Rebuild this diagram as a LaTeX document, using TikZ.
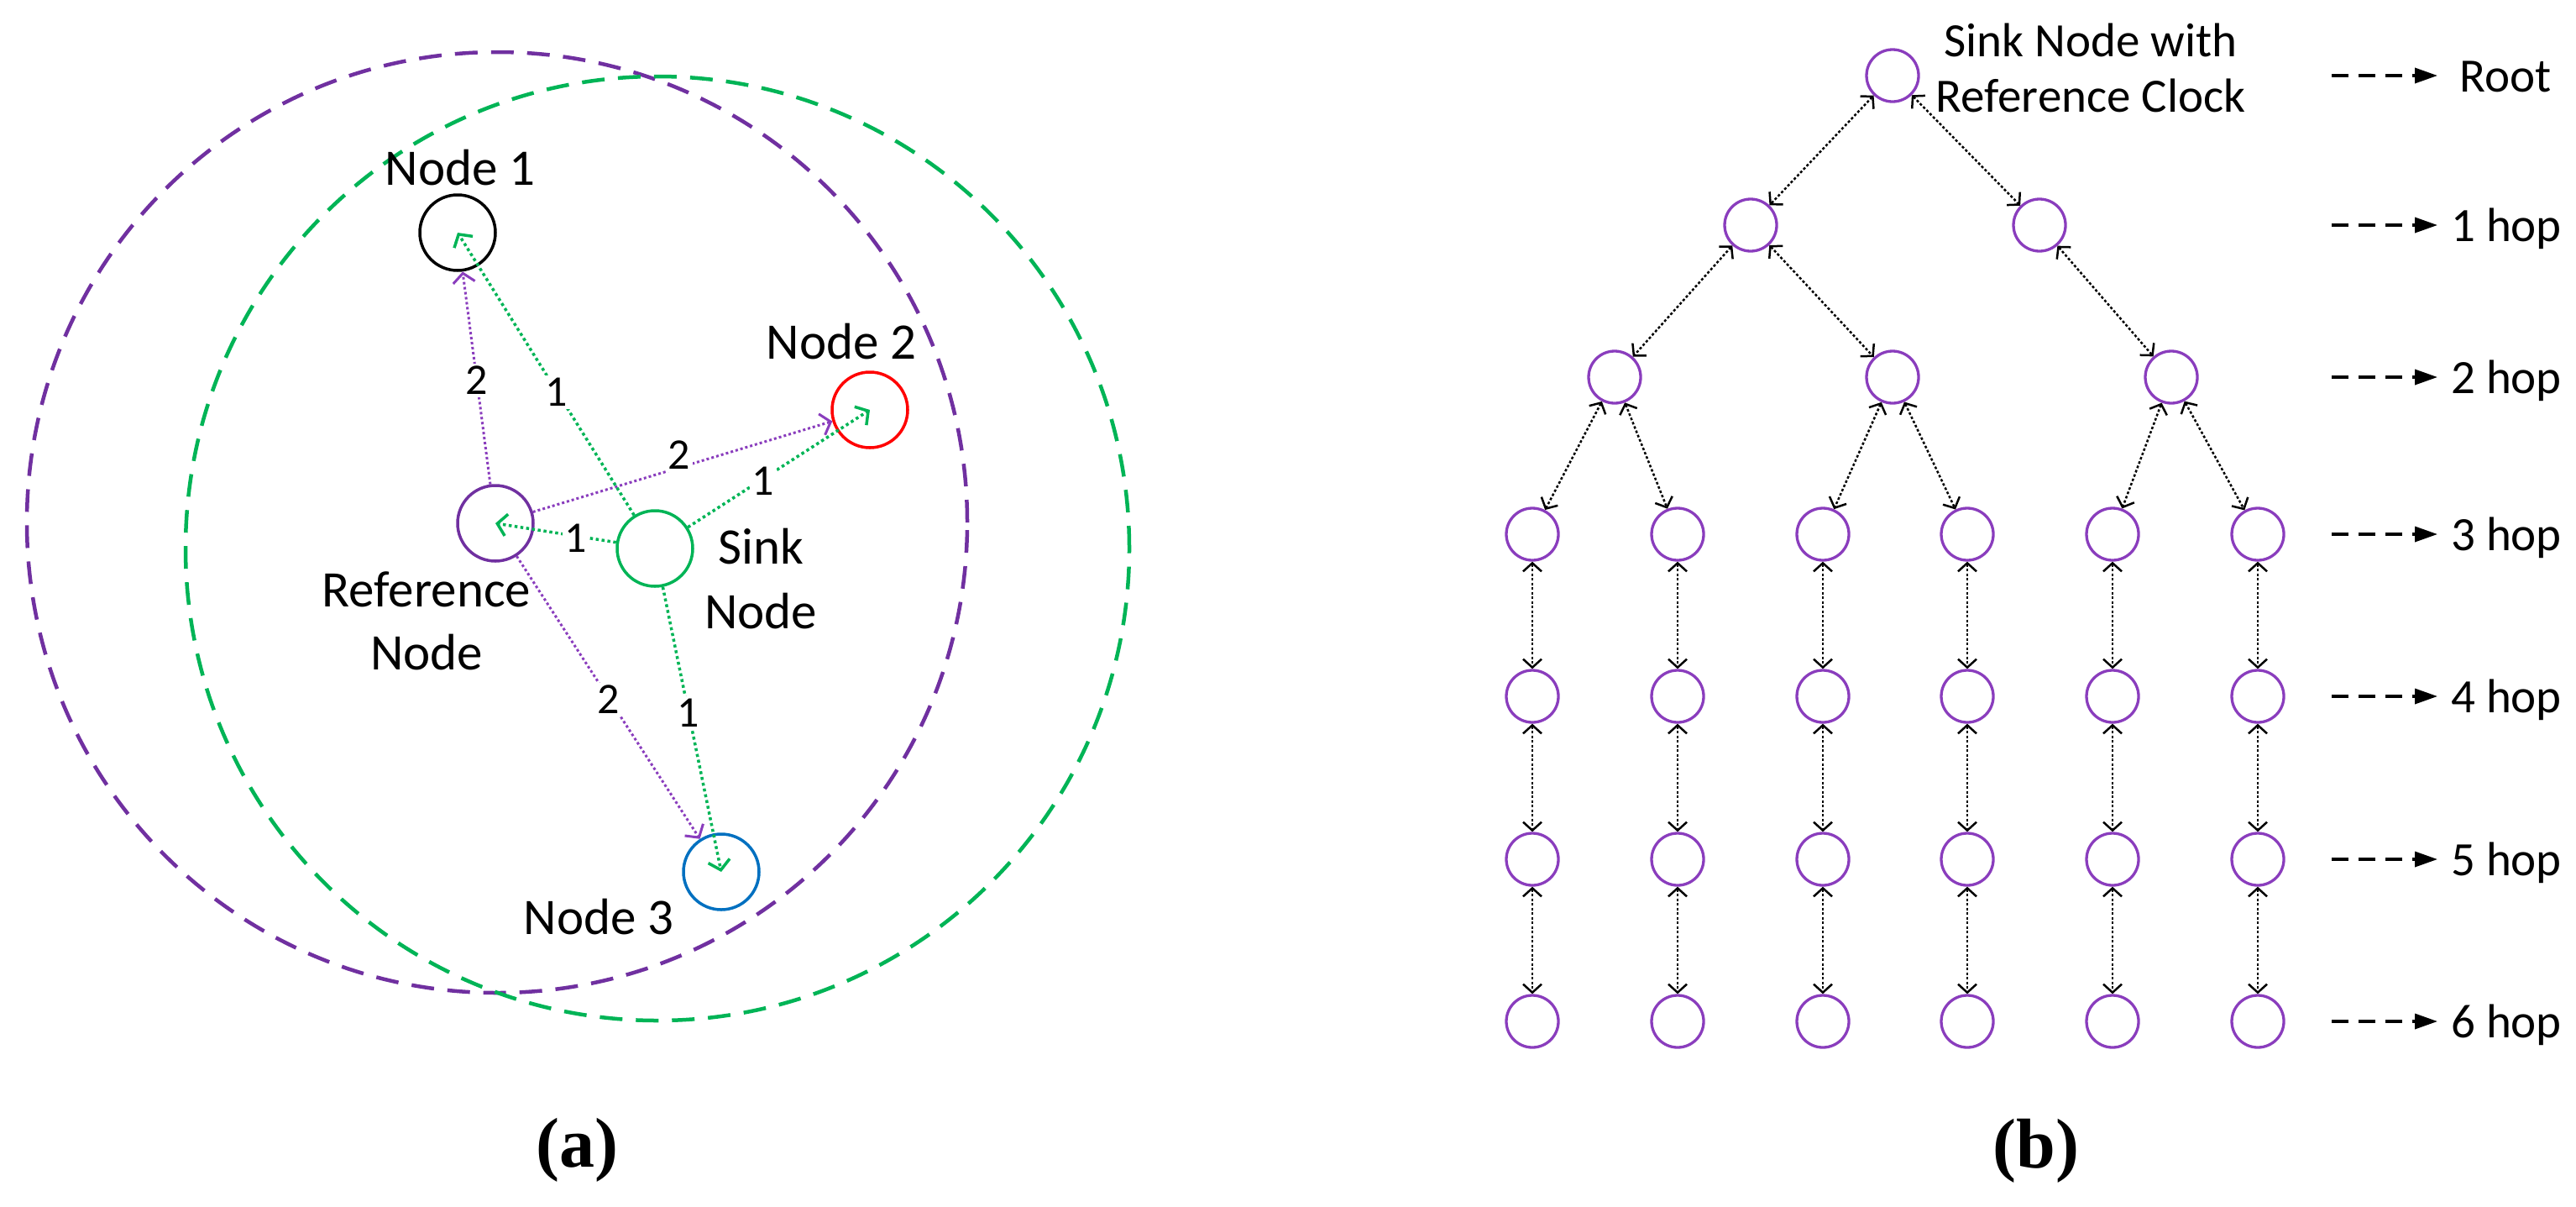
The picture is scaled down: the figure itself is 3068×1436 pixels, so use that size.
\documentclass[tikz,border=0pt]{standalone}
\usepackage{fontspec}
\setmainfont{Carlito}
\newfontfamily\capfont{Liberation Serif}
\usetikzlibrary{arrows.meta}
\definecolor{cpurple}{HTML}{7030A0}
\definecolor{lpurple}{HTML}{8A3DBD}
\definecolor{cgreen}{HTML}{00B456}
\definecolor{cred}{HTML}{FF0000}
\definecolor{cblue}{HTML}{0070C0}
\begin{document}
\begin{tikzpicture}[x=1pt,y=-1pt,
  rangecircle/.style={circle,draw,inner sep=0pt,line width=4.5pt,dash pattern=on 27pt off 16pt},
  lnode/.style={circle,draw,inner sep=0pt,minimum size=90pt,line width=3.5pt},
  garr/.style={draw=cgreen,line width=3.5pt,dash pattern=on 3.5pt off 3.5pt,-{Straight Barb[length=11pt,width=26pt]}},
  parr/.style={draw=lpurple,line width=3pt,dash pattern=on 3pt off 3pt,-{Straight Barb[length=11pt,width=26pt]}},
  elbl/.style={fill=white,inner sep=3pt,font=\fontsize{52}{60}\selectfont},
  ltxt/.style={inner sep=0pt,align=center,font=\fontsize{61}{75}\selectfont},
  tnode/.style={circle,draw=lpurple,inner sep=0pt,minimum size=62pt,line width=3.3pt},
  tedge/.style={draw=black,line width=2.5pt,dash pattern=on 3pt off 2.5pt,{Straight Barb[length=10pt,width=22pt]}-{Straight Barb[length=10pt,width=22pt]}},
  hoparr/.style={draw=black,line width=3.5pt,dash pattern=on 20pt off 12pt,-{Triangle[length=27pt,width=18pt]}},
  hoptxt/.style={inner sep=0pt,anchor=base west,font=\fontsize{57}{66}\selectfont},
  capt/.style={inner sep=0pt,font=\capfont\bfseries\fontsize{84}{90}\selectfont}]
\useasboundingbox (0,0) rectangle (3068,1436);

% ---------------- (a) ----------------
\node[rangecircle,draw=cpurple,minimum size=1120pt] (rp) at (592,622) {};
\node[rangecircle,draw=cgreen,minimum size=1124pt] (rg) at (783,653) {};

\node[lnode,draw=black] (n1) at (545,277) {};
\node[lnode,draw=cred] (n2) at (1036,488) {};
\node[lnode,draw=cpurple] (ref) at (590,623) {};
\node[lnode,draw=cgreen] (sink) at (780,653) {};
\node[lnode,draw=cblue] (n3) at (859,1038) {};

\draw[parr] (ref) -- (n1);
\draw[parr] (ref) -- (n2);
\draw[parr] (ref) -- (n3);
\draw[garr] (sink) -- (n1.center);
\draw[garr] (sink) -- (n2.center);
\draw[garr] (sink) -- (ref.center);
\draw[garr] (sink) -- (n3.center);

\node[elbl] (e1) at (568,453) {2};
\node[elbl] (e2) at (663,467) {1};
\node[elbl] (e3) at (809,542) {2};
\node[elbl] (e4) at (909,573) {1};
\node[elbl] (e5) at (686,641) {1};
\node[elbl] (e6) at (725,833) {2};
\node[elbl] (e7) at (820,849) {1};

\node[ltxt] (t1) at (548,200) {Node 1};
\node[ltxt] (t2) at (1002,407) {Node 2};
\node[ltxt] (t3) at (713,1092) {Node 3};
\node[ltxt] (tref) at (508,739) {Reference\\Node};
\node[ltxt,font=\fontsize{61}{77}\selectfont] (tsink) at (906,689) {Sink\\Node};

\node[capt] (ca) at (687,1369) {(a)};

% ---------------- (b) ----------------
\node[tnode] (r) at (2254,90) {};
\node[tnode] (a1) at (2085,268) {};
\node[tnode] (a2) at (2429,268) {};
\node[tnode] (b1) at (1923,449) {};
\node[tnode] (b2) at (2254,449) {};
\node[tnode] (b3) at (2586,449) {};
\foreach \c/\x in {1/1825,2/1998,3/2171,4/2343,5/2516,6/2689}{
  \node[tnode] (c\c) at (\x,636) {};
  \node[tnode] (d\c) at (\x,829) {};
  \node[tnode] (f\c) at (\x,1023) {};
  \node[tnode] (g\c) at (\x,1216) {};
  \draw[tedge] (c\c) -- (d\c);
  \draw[tedge] (d\c) -- (f\c);
  \draw[tedge] (f\c) -- (g\c);
}
\draw[tedge] (r) -- (a1);
\draw[tedge] (r) -- (a2);
\draw[tedge] (a1) -- (b1);
\draw[tedge] (a1) -- (b2);
\draw[tedge] (a2) -- (b3);
\draw[tedge] (b1) -- (c1);
\draw[tedge] (b1) -- (c2);
\draw[tedge] (b2) -- (c3);
\draw[tedge] (b2) -- (c4);
\draw[tedge] (b3) -- (c5);
\draw[tedge] (b3) -- (c6);

\node[inner sep=0pt,align=center,font=\fontsize{57}{66}\selectfont] (rt) at (2490,81) {Sink Node with\\Reference Clock};

\foreach \i/\y/\t/\tx in {0/90/Root/2929,1/268/1 hop/2919,2/449/2 hop/2919,3/636/3 hop/2919,4/829/4 hop/2919,5/1023/5 hop/2919,6/1216/6 hop/2919}{
  \coordinate (hs\i) at (2777,\y);
  \coordinate (he\i) at (2903,\y);
  \draw[hoparr] (hs\i) -- (he\i);
  \node[hoptxt] (ht\i) at (\tx,\y+19) {\t};
}

\node[capt] (cb) at (2425,1370) {(b)};
\end{tikzpicture}
\end{document}
